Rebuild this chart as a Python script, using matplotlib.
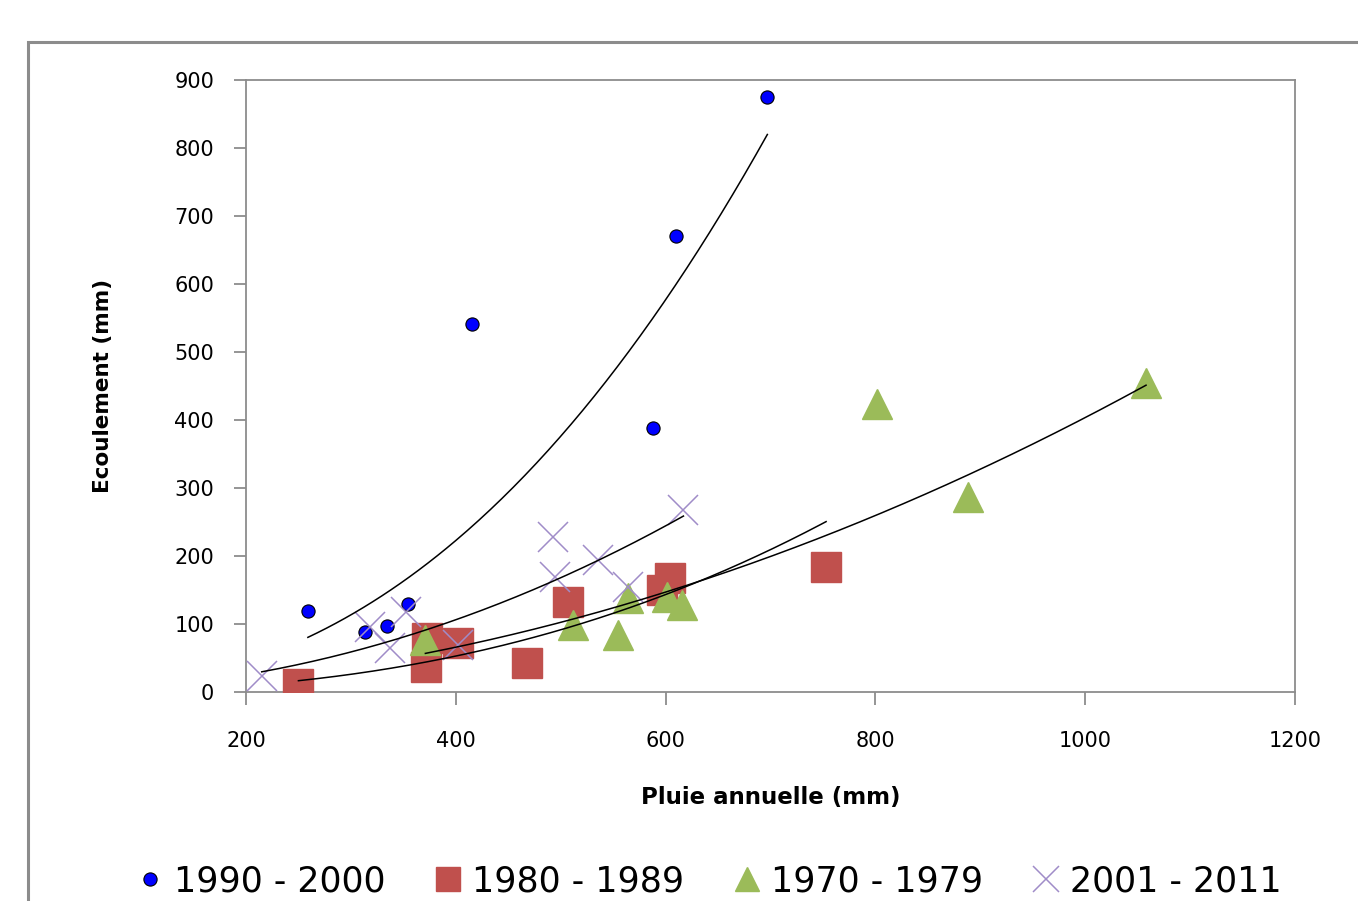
import numpy as np
import matplotlib.pyplot as plt
from matplotlib.lines import Line2D
from matplotlib.patches import Rectangle

plt.rcParams["font.family"] = "DejaVu Sans"

# values
pluie_9000 = [259, 313, 334, 354, 415, 588, 610, 697]
ecoul_9000 = [119, 88, 97, 129, 541, 388, 671, 875]

pluie_8089 = [250, 373, 372, 402, 468, 507, 604, 597, 753]
ecoul_8089 = [12, 79, 37, 72, 43, 132, 168, 150, 184]

pluie_7079 = [371, 512, 555, 564, 601, 616, 802, 888, 1058]
ecoul_7079 = [76, 98, 84, 138, 140, 128, 424, 287, 454]

pluie_0111 = [215, 318, 337, 353, 402, 493, 495, 536, 564, 617]
ecoul_0111 = [24, 96, 65, 118, 69, 228, 169, 194, 154, 268]

labels = ["1990 - 2000", "1980 - 1989", "1970 - 1979", "2001 - 2011"]

fig = plt.figure(figsize=(13.58, 9.01), dpi=100, facecolor="white")
ax = fig.add_axes([246 / 1358, 1 - 692 / 901, (1295 - 246) / 1358, (692 - 80) / 901])

# outer chart frame (runs off the page at right/bottom)
fig.patches.append(Rectangle((28 / 1358, -0.1), 1.2, 1 - 42 / 901 + 0.1,
                             transform=fig.transFigure, fill=False,
                             edgecolor="#8c8c8c", lw=2.2, zorder=0))

styles = [
    dict(marker="o", ms=9.5, mfc="#0000ff", mec="black", mew=0.8, ls="none"),
    dict(marker="s", ms=21, mfc="#c0504d", mec="#c0504d", ls="none"),
    dict(marker="^", ms=21, mfc="#9bbb59", mec="#9bbb59", ls="none"),
    dict(marker="x", ms=22, mec="#a08cc8", mew=1.1, ls="none"),
]
series = [(pluie_9000, ecoul_9000), (pluie_8089, ecoul_8089),
          (pluie_7079, ecoul_7079), (pluie_0111, ecoul_0111)]

for (px, ey), st in zip(series, styles):
    ax.plot(px, ey, zorder=3, **st)

# power trendlines (log-log regression, like Excel)
for px, ey in series:
    px = np.array(px, float)
    ey = np.array(ey, float)
    b, lna = np.polyfit(np.log(px), np.log(ey), 1)
    xx = np.linspace(px.min(), px.max(), 200)
    ax.plot(xx, np.exp(lna) * xx ** b, color="black", lw=1.1, zorder=4)

ax.set_xlim(200, 1200)
ax.set_ylim(0, 900)
ax.set_xticks(range(200, 1201, 200))
ax.set_yticks(range(0, 901, 100))
for s in ax.spines.values():
    s.set_color("#8c8c8c")
    s.set_linewidth(1.3)
ax.tick_params(direction="out", length=9, width=1.3, color="#8c8c8c",
               labelsize=15)
ax.tick_params(axis="y", pad=14)
ax.tick_params(axis="x", pad=19)
ax.set_xlabel("Pluie annuelle (mm)", fontsize=16.5, fontweight="bold", labelpad=25)
ax.set_ylabel("Ecoulement (mm)", fontsize=15.5, fontweight="bold", labelpad=44)

handles = [Line2D([], [], **dict(st, ms=st["ms"] * (0.85 if i else 1.0)))
           for i, st in enumerate(styles)]
fig.legend(handles, labels, loc="center", bbox_to_anchor=(0.522, 0.022),
           ncol=4, frameon=False, fontsize=25, handlelength=0.8,
           handletextpad=0.3, columnspacing=1.4, borderpad=0)

fig.savefig("out.png", dpi=100, facecolor="white")
